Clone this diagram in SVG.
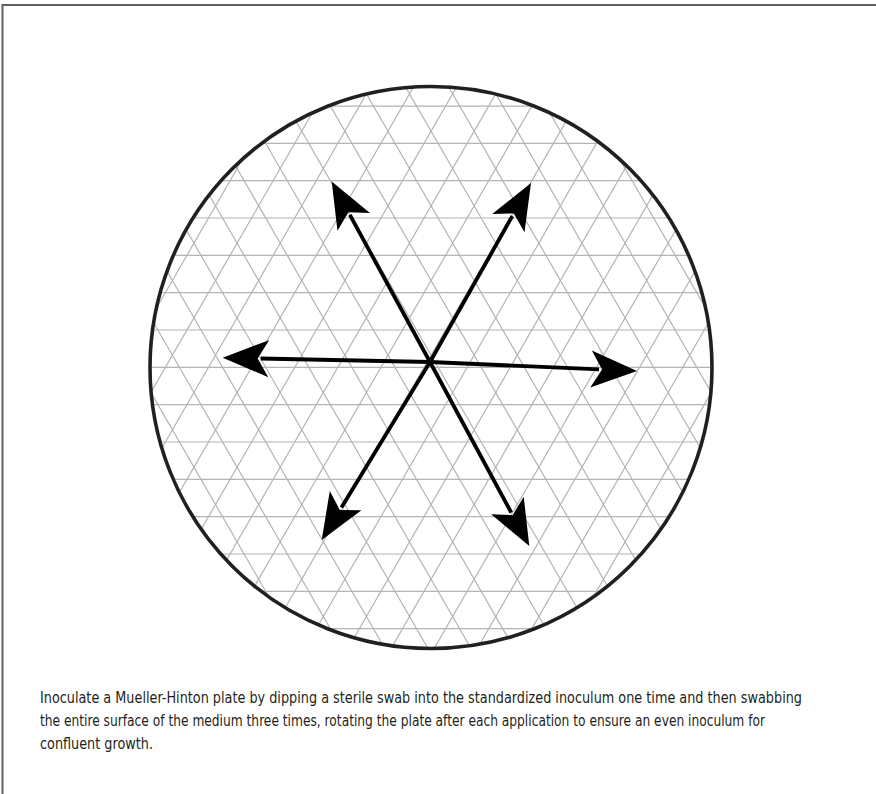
<svg xmlns="http://www.w3.org/2000/svg" width="876" height="794" viewBox="0 0 876 794">
  <style>
    .frame { fill: none; stroke: #606060; stroke-width: 2; }
    .grid { fill: none; stroke: #b4b4b4; stroke-width: 1.2; }
    .rim { fill: none; stroke: #231f20; stroke-width: 3.6; }
    .shaft { stroke: #000; stroke-width: 3.8; fill: none; marker-end: url(#ah); }
    .cap { font-family: "Liberation Sans Narrow", "DejaVu Sans Condensed", "Liberation Sans", sans-serif; font-size: 15.5px; fill: #231f20; }
  </style>
  <defs>
    <clipPath id="plateClip">
      <circle cx="431" cy="367.5" r="281"/>
    </clipPath>
    <marker id="ah" markerUnits="userSpaceOnUse" orient="auto" viewBox="-10 -20 50 40" refX="0" refY="0" markerWidth="50" markerHeight="40">
      <path d="M38,0 L-8,-18.5 L3,0 L-8,18.5 Z" fill="#000"/>
    </marker>
  </defs>
  <rect class="frame" x="2.5" y="5" width="900" height="820"/>
  <g id="plate">
    <circle cx="431" cy="367.5" r="281" fill="#fff"/>
    <g id="grid" class="grid" clip-path="url(#plateClip)">
      <path d="M100,106.03H760M100,143.36H760M100,180.69H760M100,218.02H760M100,255.35H760M100,292.68H760M100,330.01H760M100,367.34H760M100,404.67H760M100,442H760M100,479.33H760M100,516.66H760M100,553.99H760M100,591.32H760M100,628.65H760"/>
      <path d="M115.74,80L-219.13,660M158.85,80L-176.02,660M201.96,80L-132.91,660M245.07,80L-89.8,660M288.18,80L-46.69,660M331.29,80L-3.58,660M374.4,80L39.53,660M417.51,80L82.64,660M460.62,80L125.75,660M503.73,80L168.86,660M546.84,80L211.97,660M589.95,80L255.08,660M633.06,80L298.19,660M676.17,80L341.3,660M719.28,80L384.41,660M762.39,80L427.52,660M805.5,80L470.63,660M848.61,80L513.74,660M891.72,80L556.85,660M934.83,80L599.96,660M977.94,80L643.07,660M1021.05,80L686.18,660M1064.16,80L729.29,660"/>
      <path d="M-202.01,80L132.86,660M-158.9,80L175.97,660M-115.79,80L219.08,660M-72.68,80L262.19,660M-29.57,80L305.3,660M13.54,80L348.41,660M56.65,80L391.52,660M99.76,80L434.63,660M142.87,80L477.74,660M185.98,80L520.85,660M229.09,80L563.96,660M272.2,80L607.07,660M315.31,80L650.18,660M358.42,80L693.29,660M401.53,80L736.4,660M444.64,80L779.51,660M487.75,80L822.62,660M530.86,80L865.73,660M573.97,80L908.84,660M617.08,80L951.95,660M660.19,80L995.06,660M703.3,80L1038.17,660M746.41,80L1081.28,660"/>
    </g>
    <circle class="rim" cx="431" cy="367.5" r="281"/>
  </g>
  <g id="arrows">
    <line class="shaft" x1="430" y1="362" x2="349.88" y2="214.87"/>
    <line class="shaft" x1="430" y1="362" x2="511.25" y2="512.56"/>
    <line class="shaft" x1="430" y1="362" x2="341.45" y2="507.54"/>
    <line class="shaft" x1="430" y1="362" x2="512.32" y2="216.1"/>
    <line class="shaft" x1="430" y1="362" x2="260.69" y2="358.49"/>
    <line class="shaft" x1="430" y1="362" x2="599.04" y2="369.35"/>
  </g>
  <g id="caption" class="cap">
    <text x="40" y="703" textLength="762" lengthAdjust="spacingAndGlyphs">Inoculate a Mueller-Hinton plate by dipping a sterile swab into the standardized inoculum one time and then swabbing</text>
    <text x="40" y="726" textLength="725" lengthAdjust="spacingAndGlyphs">the entire surface of the medium three times, rotating the plate after each application to ensure an even inoculum for</text>
    <text x="40" y="749" textLength="113" lengthAdjust="spacingAndGlyphs">confluent growth.</text>
  </g>
</svg>
